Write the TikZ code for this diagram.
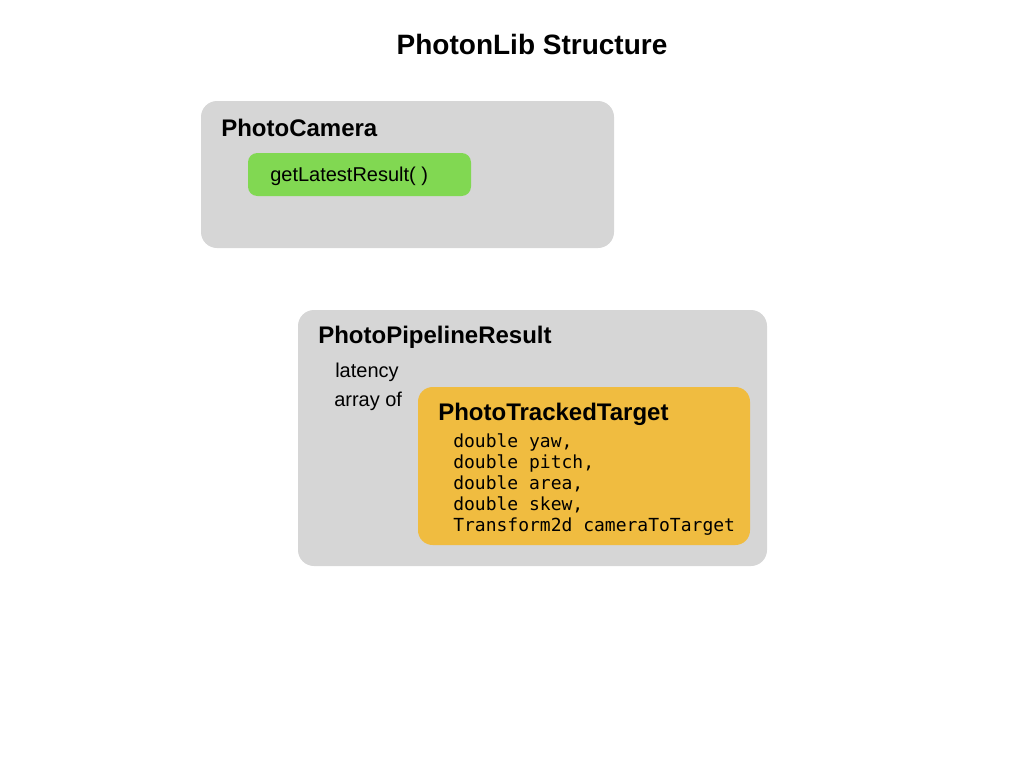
\documentclass[tikz,border=0pt]{standalone}
\usepackage{fontspec}
\setmainfont{Liberation Sans}
\setmonofont{DejaVu Sans Mono}
\definecolor{boxgray}{RGB}{214,214,214}
\definecolor{methgreen}{RGB}{129,216,82}
\definecolor{targetorange}{RGB}{240,188,64}
\begin{document}
\begin{tikzpicture}[x=0.75pt,y=0.75pt,yscale=-1,xscale=1,
  txt/.style={anchor=base west,inner sep=0pt},
  head/.style={txt,font=\fontsize{18}{20}\selectfont\bfseries},
  plain/.style={txt,font=\fontsize{15}{18}\selectfont},
  code/.style={txt,font=\fontsize{13.5}{15.75}\ttfamily}]
\useasboundingbox (0,0) rectangle (1024,768);

%Rounded Rect camera
\fill [boxgray, rounded corners=12] (201,101) rectangle (614,248);
%Rounded Rect method
\fill [methgreen, rounded corners=7] (248,153) rectangle (471,196);
%Rounded Rect result
\fill [boxgray, rounded corners=12] (298,310) rectangle (767,566);
%Rounded Rect target
\fill [targetorange, rounded corners=11] (418,387) rectangle (750,545);

% Text Node
\node (title) at (532,54) [anchor=base,inner sep=0pt,font=\fontsize{21}{24}\selectfont\bfseries] {PhotonLib Structure};
% Text Node
\node (camera) at (221,136) [head] {PhotoCamera};
% Text Node
\node (getresult) at (270,181) [plain] {getLatestResult( )};
% Text Node
\node (pipeline) at (318,343) [head] {PhotoPipelineResult};
% Text Node
\node (latency) at (335,377) [plain] {latency};
% Text Node
\node (arrayof) at (334,406) [plain] {array of};
% Text Node
\node (target) at (438,420) [head] {PhotoTrackedTarget};
% Text Nodes fields
\foreach \fld [count=\i] in {{double yaw,},{double pitch,},{double area,},{double skew,},{Transform2d cameraToTarget}}
  \node (field\i) at (453,426+21*\i) [code] {\fld};

\end{tikzpicture}
\end{document}
